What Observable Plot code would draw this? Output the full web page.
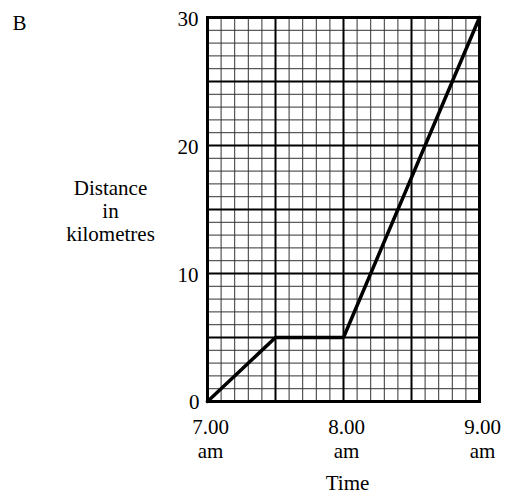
<!DOCTYPE html>
<html>
<head>
<meta charset="utf-8">
<script src="https://cdn.jsdelivr.net/npm/d3@7"></script>
<script src="https://cdn.jsdelivr.net/npm/@observablehq/plot@0.6"></script>
<style>
  html, body { margin: 0; padding: 0; background: #fff; }
  #chart { width: 513px; height: 499px; }
  #chart svg, #chart svg text { font-family: "Liberation Serif", "Times New Roman", serif !important; }
</style>
</head>
<body>
<div id="chart"></div>
<script>
// Journey data: time in hours (decimal), distance in km
const times = [7, 7.5, 8, 9];
const distances = [0, 5, 5, 30];

// Axis labels
const xTickValues = [7, 8, 9];
const xTickLabels = ["7.00\nam", "8.00\nam", "9.00\nam"];
const yTickValues = [0, 10, 20, 30];
const yTickLabels = ["0", "10", "20", "30"];

// Grid lines
const xMinor = d3.range(0, 21).map(i => 7 + i * 0.1);
const xMajor = [7, 7.5, 8, 8.5, 9];
const yMinor = d3.range(0, 31);
const yMajor = [0, 5, 10, 15, 20, 25, 30];

const journey = times.map((t, i) => ({t, d: distances[i]}));
const font = "Liberation Serif";

const chart = Plot.plot({
  width: 513,
  height: 499,
  marginLeft: 207,
  marginRight: 34,
  marginTop: 17,
  marginBottom: 98,
  style: {fontFamily: "'Liberation Serif', serif", fontSize: "21px", background: "#fff", color: "#000"},
  x: {domain: [7, 9], axis: null},
  y: {domain: [0, 30], axis: null},
  marks: [
    Plot.ruleX(xMinor, {stroke: "#333", strokeWidth: 1}),
    Plot.ruleY(yMinor, {stroke: "#333", strokeWidth: 1}),
    Plot.ruleX(xMajor, {stroke: "#000", strokeWidth: 2}),
    Plot.ruleY(yMajor, {stroke: "#000", strokeWidth: 2}),
    Plot.frame({stroke: "#000", strokeWidth: 3}),
    Plot.line(journey, {x: "t", y: "d", stroke: "#000", strokeWidth: 3.5, strokeLinejoin: "miter"}),
    Plot.text(yTickValues.slice(1), {
      x: 7, y: d => d, text: (d, i) => yTickLabels[i + 1],
      textAnchor: "end", dx: -9, dy: 2,
      fontFamily: font, fontSize: 21, fill: "#000"
    }),
    Plot.text(yTickValues.slice(0, 1), {
      x: 7, y: d => d, text: (d, i) => yTickLabels[i],
      textAnchor: "end", dx: -8, dy: 1,
      fontFamily: font, fontSize: 21, fill: "#000"
    }),
    Plot.text(xTickValues, {
      x: d => d, y: 0, text: (d, i) => xTickLabels[i],
      textAnchor: "middle", lineAnchor: "top", lineHeight: 1.15, dx: 3, dy: 15,
      fontFamily: font, fontSize: 21, fill: "#000"
    }),
    Plot.text(["Distance\nin\nkilometres"], {
      frameAnchor: "left", text: d => d, textAnchor: "middle",
      lineHeight: 1.1, dx: -97, dy: 1, fontFamily: font, fontSize: 21, fill: "#000"
    }),
    Plot.text(["Time"], {
      frameAnchor: "bottom", text: d => d, textAnchor: "middle",
      dx: 4, dy: 88, fontFamily: font, fontSize: 21, fill: "#000"
    }),
    Plot.text(["B"], {
      frameAnchor: "top-left", text: d => d, textAnchor: "middle",
      dx: -188, dy: -2, fontFamily: font, fontSize: 21, fill: "#000"
    })
  ]
});
document.getElementById("chart").appendChild(chart);
</script>
</body>
</html>
